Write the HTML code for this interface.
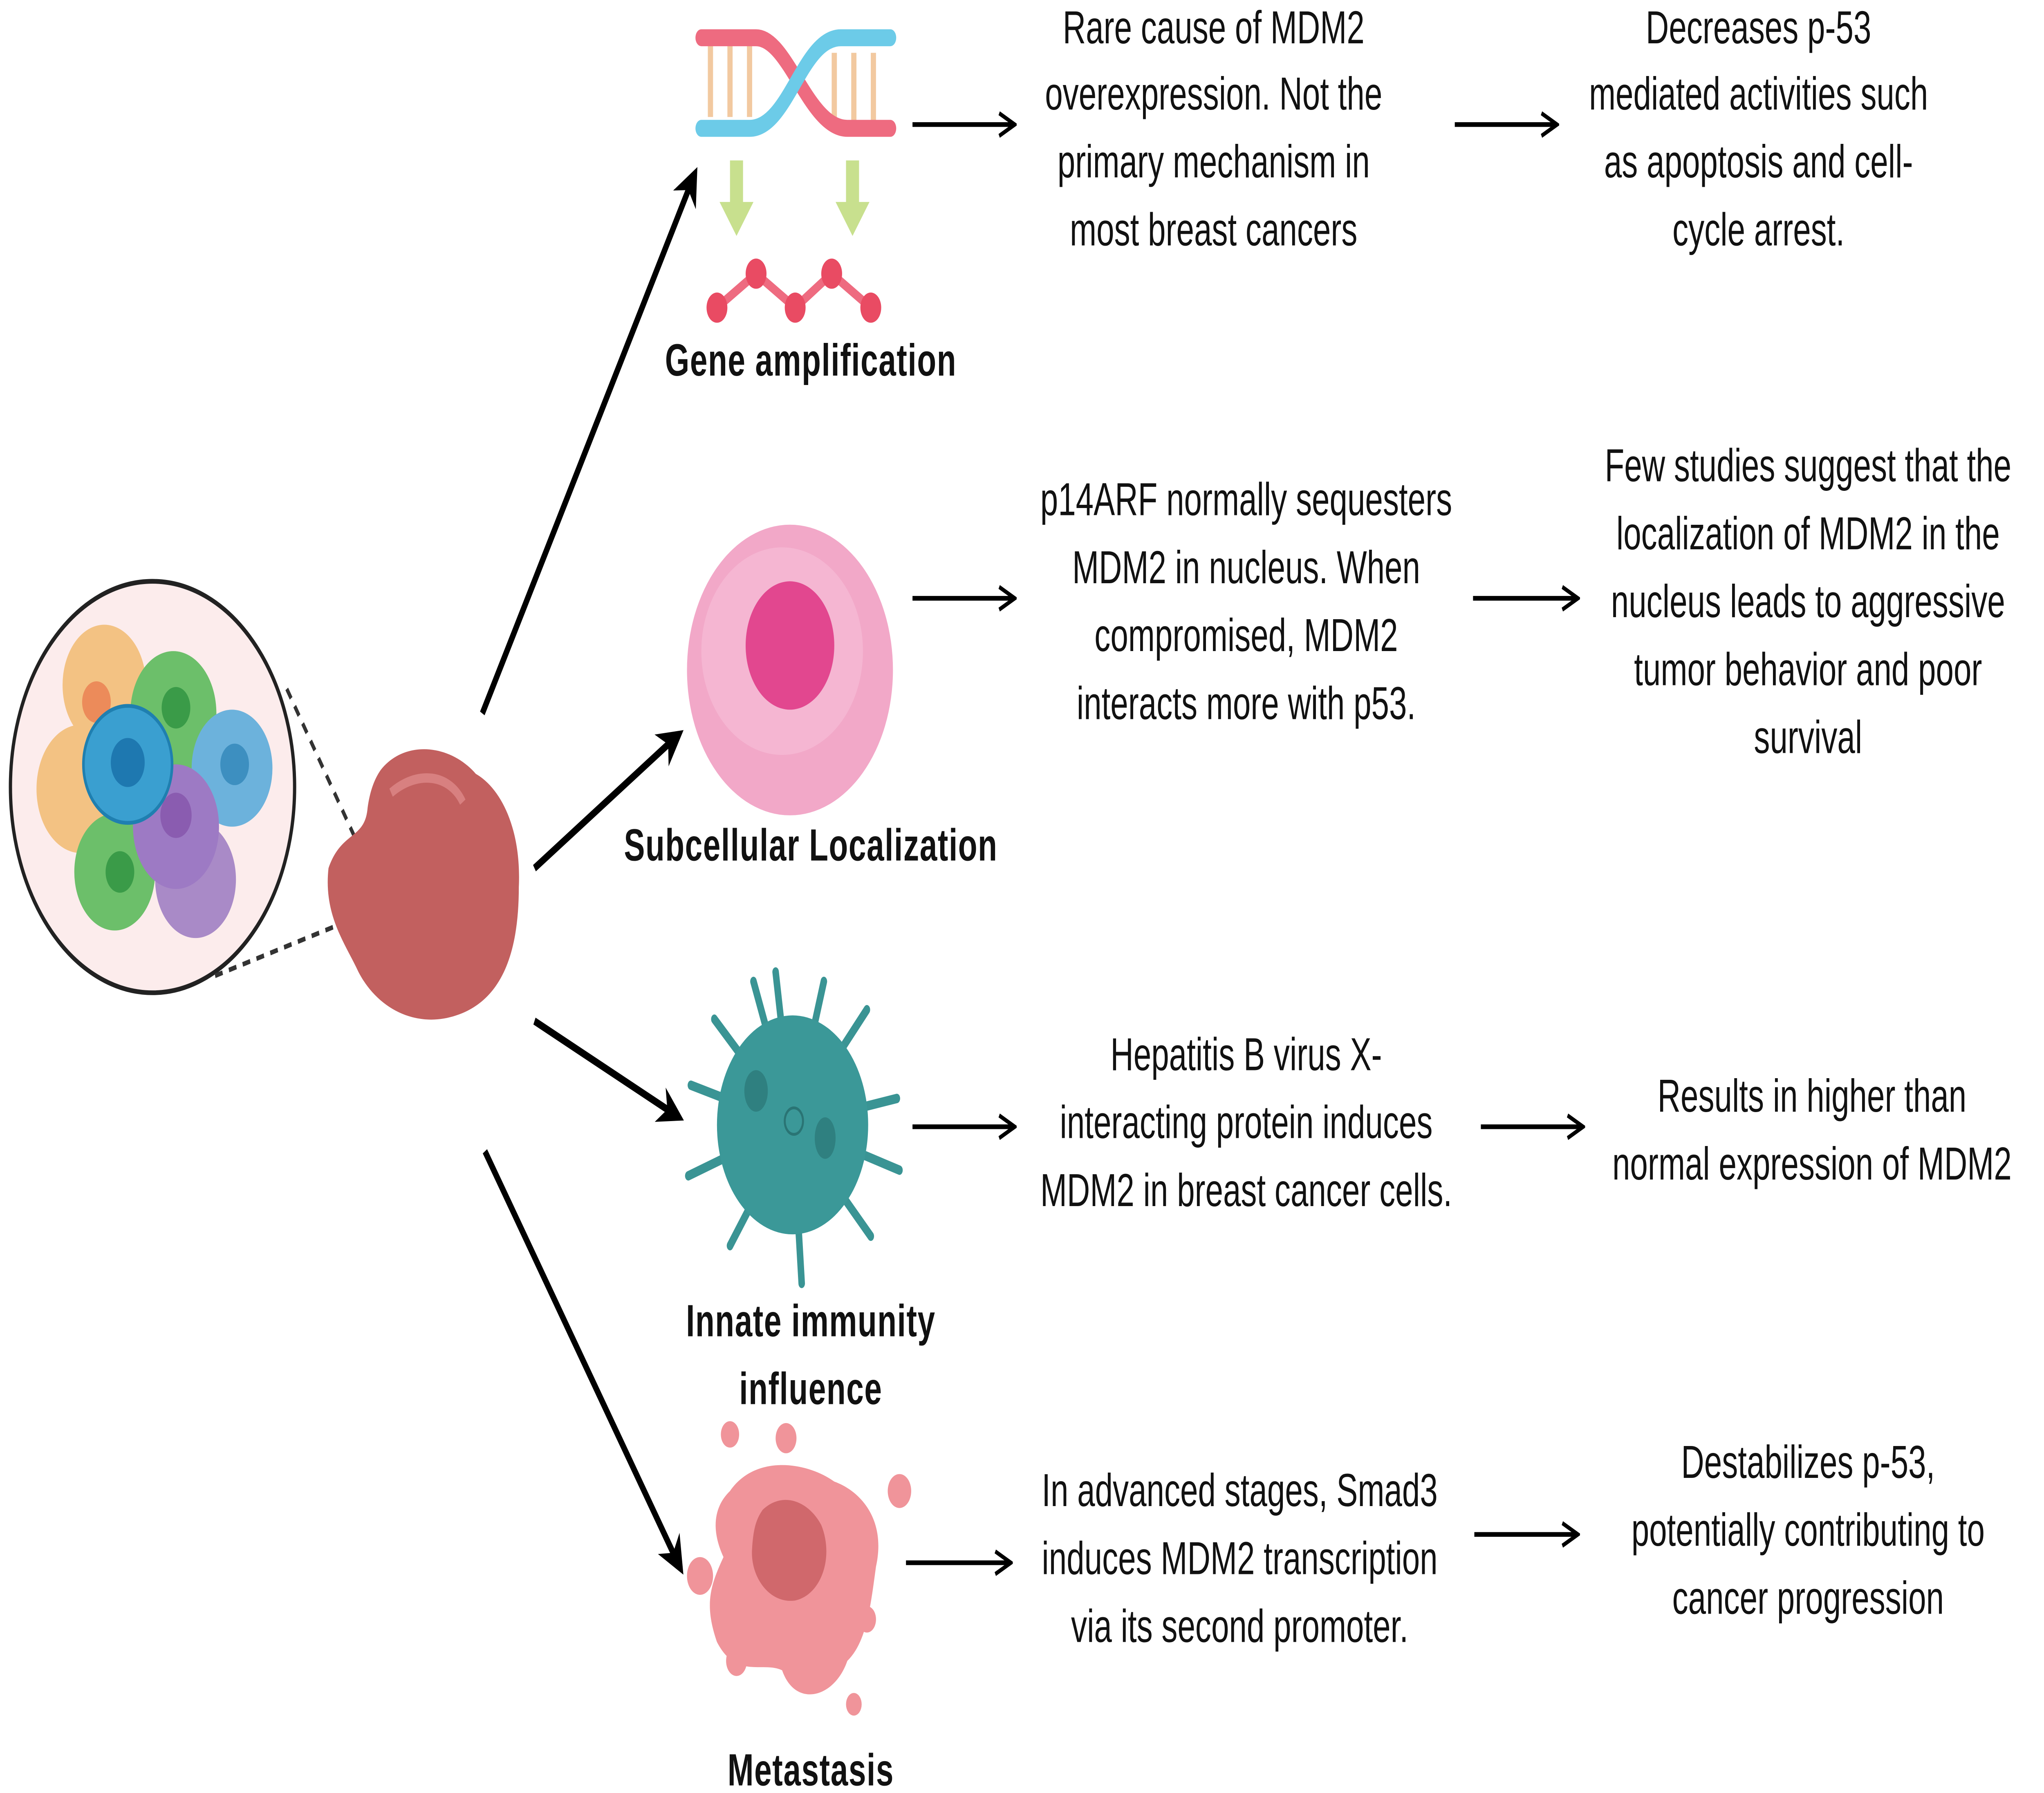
<!DOCTYPE html>
<html><head><meta charset="utf-8"><style>
html,body{margin:0;padding:0;background:#fff;overflow:hidden;width:100%;height:100%}
svg{display:block;position:fixed;left:0;top:0;width:100vw;height:100vh}
text{font-family:"Liberation Sans",sans-serif;fill:#111}
.t{font-size:24.5px;text-anchor:middle}
.b{font-size:24px;font-weight:bold;text-anchor:middle;letter-spacing:0.5px}
</style></head><body>
<svg viewBox="0 0 1568 950" preserveAspectRatio="none" xmlns="http://www.w3.org/2000/svg">
<defs>
<marker id="a" viewBox="0 0 10 10" refX="8" refY="5" markerWidth="5" markerHeight="5" orient="auto"><path d="M0,0 L10,5 L0,10 L3,5 z" fill="#000"/></marker>
<marker id="s" viewBox="0 0 10 10" refX="8" refY="5" markerWidth="6" markerHeight="6" orient="auto"><path d="M1,1 L9,5 L1,9" fill="none" stroke="#000" stroke-width="1.5"/></marker>
</defs>
<circle cx="117" cy="417" r="109" fill="#fcecec" stroke="#222" stroke-width="2.5"/>
<circle cx="80" cy="363" r="32" fill="#f3c283"/><circle cx="74" cy="372" r="11" fill="#ec8b5a"/>
<circle cx="62" cy="418" r="34" fill="#f3c283"/>
<circle cx="133" cy="378" r="33" fill="#6cbf6a"/><circle cx="135" cy="375" r="11" fill="#3a9b48"/>
<circle cx="178" cy="407" r="31" fill="#6cb2dc"/><circle cx="180" cy="405" r="11" fill="#3d8fc0"/>
<circle cx="88" cy="462" r="31" fill="#6cbf6a"/><circle cx="92" cy="462" r="11" fill="#3a9b48"/>
<circle cx="150" cy="466" r="31" fill="#a98ac7"/>
<circle cx="135" cy="438" r="33" fill="#9d7ac4"/><circle cx="135" cy="432" r="12" fill="#8a5cb0"/>
<ellipse cx="98" cy="405" rx="34" ry="31" fill="#3a9fd0" stroke="#1f7fb0" stroke-width="2"/><circle cx="98" cy="404" r="13" fill="#1e78b0"/>
<path d="M220,365 L293,475 M165,517 L295,480" stroke="#333" stroke-width="2.5" stroke-dasharray="6,5"/>
<path d="M292,408 C310,392 345,394 365,410 C385,418 400,440 398,470 C398,505 385,530 350,538 C320,545 290,535 275,515 C265,500 248,485 252,460 C262,440 280,445 282,428 C284,418 288,412 292,408 Z" fill="#c2605f"/>
<path d="M300,420 C320,408 345,410 355,425" stroke="#d88080" stroke-width="5" fill="none"/>
<g stroke="#000" stroke-width="4" marker-end="url(#a)">
<line x1="370" y1="378" x2="533" y2="92"/>
<line x1="410" y1="460" x2="521" y2="389"/>
<line x1="410" y1="541" x2="521" y2="592"/>
<line x1="372" y1="610" x2="522" y2="831"/>
</g>
<g stroke="#f2c9a0" stroke-width="4"><line x1="545" y1="22" x2="545" y2="62"/><line x1="560" y1="22" x2="560" y2="62"/><line x1="575" y1="22" x2="575" y2="62"/><line x1="640" y1="28" x2="640" y2="68"/><line x1="655" y1="28" x2="655" y2="68"/><line x1="670" y1="28" x2="670" y2="68"/></g>
<path d="M538,20 L580,20 C605,20 620,68 650,68 L683,68" stroke="#ee6b80" stroke-width="9" fill="none" stroke-linecap="round"/>
<path d="M538,68 L575,68 C605,68 615,20 645,20 L683,20" stroke="#6ccbe8" stroke-width="9" fill="none" stroke-linecap="round"/>
<g fill="#c8e08e"><path d="M560,85 h10 v22 h8 l-13,18 -13,-18 h8z"/><path d="M649,85 h10 v22 h8 l-13,18 -13,-18 h8z"/></g>
<polyline points="550,163 580,145 610,163 638,145 668,163" stroke="#ee6b80" stroke-width="5" fill="none"/>
<g fill="#e94b63"><circle cx="550" cy="163" r="8"/><circle cx="580" cy="145" r="8"/><circle cx="610" cy="163" r="8"/><circle cx="638" cy="145" r="8"/><circle cx="668" cy="163" r="8"/></g>
<ellipse cx="606" cy="355" rx="79" ry="77" fill="#f2a8c8"/>
<ellipse cx="600" cy="345" rx="62" ry="55" fill="#f6c0d8" opacity="0.6"/>
<circle cx="606" cy="342" r="34" fill="#e2478f"/>
<g stroke="#3a9494" stroke-width="5" fill="none" stroke-linecap="round">
<line x1="608" y1="596" x2="578" y2="520"/><line x1="608" y1="596" x2="632" y2="520"/><line x1="608" y1="596" x2="665" y2="535"/><line x1="608" y1="596" x2="688" y2="582"/><line x1="608" y1="596" x2="690" y2="620"/><line x1="608" y1="596" x2="668" y2="655"/><line x1="608" y1="596" x2="615" y2="680"/><line x1="608" y1="596" x2="560" y2="660"/><line x1="608" y1="596" x2="528" y2="623"/><line x1="608" y1="596" x2="530" y2="575"/><line x1="608" y1="596" x2="548" y2="540"/><line x1="608" y1="596" x2="595" y2="515"/>
</g>
<circle cx="608" cy="596" r="58" fill="#3b9898"/>
<circle cx="609" cy="594" r="7" fill="none" stroke="#2a7474" stroke-width="1.5"/>
<ellipse cx="580" cy="578" rx="9" ry="11" fill="#2f8080"/><ellipse cx="633" cy="603" rx="8" ry="11" fill="#2f8080"/>
<path d="M560,790 C580,770 620,775 640,785 C660,790 680,805 672,830 C668,850 665,870 650,880 C640,900 610,905 600,885 C585,880 565,890 550,870 C540,850 545,840 555,825 C545,810 548,798 560,790 Z" fill="#f0949a"/>
<path d="M585,800 C600,790 620,795 630,808 C640,825 630,845 610,848 C590,850 575,835 577,820 C578,810 580,805 585,800 Z" fill="#d0686c"/>
<g fill="#f0949a"><circle cx="537" cy="835" r="10"/><circle cx="560" cy="760" r="7"/><circle cx="603" cy="762" r="8"/><circle cx="690" cy="790" r="9"/><circle cx="665" cy="858" r="7"/><circle cx="565" cy="880" r="8"/><circle cx="655" cy="903" r="6"/></g>
<g stroke="#000" stroke-width="2.5" marker-end="url(#s)" fill="none">
<line x1="700" y1="66" x2="777" y2="66"/><line x1="1116" y1="66" x2="1193" y2="66"/>
<line x1="700" y1="317" x2="777" y2="317"/><line x1="1130" y1="317" x2="1209" y2="317"/>
<line x1="700" y1="597" x2="777" y2="597"/><line x1="1136" y1="597" x2="1213" y2="597"/>
<line x1="695" y1="828" x2="774" y2="828"/><line x1="1131" y1="813" x2="1209" y2="813"/>
</g>
<text class="b" x="622" y="199">Gene amplification</text>
<text class="b" x="622" y="456">Subcellular Localization</text>
<text class="b" x="622" y="708">Innate immunity</text>
<text class="b" x="622" y="744">influence</text>
<text class="b" x="622" y="946">Metastasis</text>
<text class="t" x="931" y="23">Rare cause of MDM2</text>
<text class="t" x="931" y="58">overexpression. Not the</text>
<text class="t" x="931" y="94">primary mechanism in</text>
<text class="t" x="931" y="130">most breast cancers</text>
<text class="t" x="1349" y="23">Decreases p-53</text>
<text class="t" x="1349" y="58">mediated activities such</text>
<text class="t" x="1349" y="94">as apoptosis and cell-</text>
<text class="t" x="1349" y="130">cycle arrest.</text>
<text class="t" x="956" y="273">p14ARF normally sequesters</text>
<text class="t" x="956" y="309">MDM2 in nucleus. When</text>
<text class="t" x="956" y="345">compromised, MDM2</text>
<text class="t" x="956" y="381">interacts more with p53.</text>
<text class="t" x="1387" y="255">Few studies suggest that the</text>
<text class="t" x="1387" y="291">localization of MDM2 in the</text>
<text class="t" x="1387" y="327">nucleus leads to aggressive</text>
<text class="t" x="1387" y="363">tumor behavior and poor</text>
<text class="t" x="1387" y="399">survival</text>
<text class="t" x="956" y="567">Hepatitis B virus X-</text>
<text class="t" x="956" y="603">interacting protein induces</text>
<text class="t" x="956" y="639">MDM2 in breast cancer cells.</text>
<text class="t" x="1390" y="589">Results in higher than</text>
<text class="t" x="1390" y="625">normal expression of MDM2</text>
<text class="t" x="951" y="798">In advanced stages, Smad3</text>
<text class="t" x="951" y="834">induces MDM2 transcription</text>
<text class="t" x="951" y="870">via its second promoter.</text>
<text class="t" x="1387" y="783">Destabilizes p-53,</text>
<text class="t" x="1387" y="819">potentially contributing to</text>
<text class="t" x="1387" y="855">cancer progression</text>
</svg>
</body></html>
